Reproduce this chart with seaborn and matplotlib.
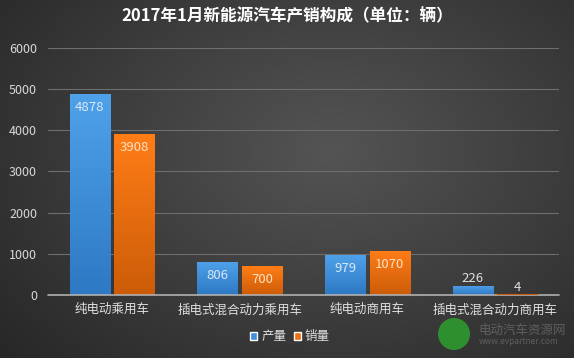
import numpy as np
import pandas as pd
import matplotlib.pyplot as plt
import seaborn as sns
from matplotlib.patches import Patch, Ellipse

categories = ["纯电动乘用车", "插电式混合动力乘用车", "纯电动商用车", "插电式混合动力商用车"]
production = [4878, 806, 979, 226]
sales = [3908, 700, 1070, 4]
series = ["产量", "销量"]
yticks = [0, 1000, 2000, 3000, 4000, 5000, 6000]

df = pd.DataFrame({
    "category": categories * 2,
    "value": production + sales,
    "series": [series[0]] * 4 + [series[1]] * 4,
})

sns.set_theme(style="dark")
plt.rcParams["font.family"] = ["Noto Sans CJK SC", "DejaVu Sans"]

fig = plt.figure(figsize=(5.74, 3.58), dpi=100)

# radial dark background
bg = fig.add_axes([0, 0, 1, 1], zorder=-10)
yy, xx = np.mgrid[0:358, 0:574]
r = np.sqrt(((xx - 330) / 420.0) ** 2 + ((yy - 150) / 300.0) ** 2)
shade = np.clip(0.33 - 0.17 * r, 0.15, 0.33)
bg.imshow(np.dstack([shade] * 3), extent=[0, 1, 0, 1], aspect="auto")
bg.axis("off")

ax = fig.add_axes([0.084, 0.176, 0.89, 0.69])
ax.patch.set_alpha(0)

colors = {"产量": "#3f8fdc", "销量": "#f06d10"}
sns.barplot(data=df, x="category", y="value", hue="series", palette=colors,
            width=0.7, gap=0.1, ax=ax, legend=False, saturation=1)

tops = {"产量": ("#4fa2ea", "#2e78c4"), "销量": ("#ff7d17", "#cc5c08")}
text_col = {"产量": "#dbe9f7", "销量": "#ffe2c6"}
vals = production + sales
for i, bar in enumerate(ax.patches):
    s = series[0] if i < 4 else series[1]
    x0, y0 = bar.get_x(), bar.get_y()
    w, h = bar.get_width(), bar.get_height()
    c1 = np.array(plt.matplotlib.colors.to_rgb(tops[s][0]))
    c2 = np.array(plt.matplotlib.colors.to_rgb(tops[s][1]))
    t = np.linspace(0, 1, 100)[:, None]
    grad = (c1 * (1 - t) + c2 * t)[:, None, :]
    im = ax.imshow(grad, extent=[x0, x0 + w, y0, y0 + h], aspect="auto", zorder=2)
    im.set_clip_path(bar)
    bar.set_facecolor("none")
    if h < 50:
        # tiny bar: draw as a thin line sitting on the axis
        bar.set_edgecolor(tops[s][1])
        bar.set_linewidth(1.5)
        bar.set_zorder(3.5)
    else:
        bar.set_edgecolor("none")
    v = vals[i]
    cx = x0 + w / 2
    if v > 500:
        ax.text(cx, v - 330, str(v), ha="center", va="center", color=text_col[s], fontsize=9.5, zorder=4)
    else:
        ax.text(cx, v + 170, str(v), ha="center", va="center", color="#e0e0e0", fontsize=9.5, zorder=4)

ax.set_xlim(-0.5, 3.5)
ax.set_ylim(0, 6000)
ax.set_yticks(yticks)
ax.set_yticklabels([str(y) for y in yticks])
ax.grid(axis="y", color="#6e6e6e", linewidth=0.8)
ax.set_axisbelow(True)
ax.axhline(0, color="#b0b0b0", linewidth=1.2, zorder=3, clip_on=False)
for sp in ax.spines.values():
    sp.set_visible(False)
ax.tick_params(axis="y", colors="#d8d8d8", labelsize=9, pad=8, length=0)
ax.tick_params(axis="x", colors="#e0e0e0", labelsize=9, pad=6, length=0)
ax.set_xlabel("")
ax.set_ylabel("")

fig.text(0.5, 0.953, "2017年1月新能源汽车产销构成（单位：辆）", ha="center", va="center",
         color="white", fontsize=12, fontweight="bold")

handles = [Patch(facecolor="#3f8fdc"), Patch(facecolor="#f06d10")]
fig.legend(handles, series, loc="center", bbox_to_anchor=(0.505, 0.059), ncol=2, frameon=False,
           fontsize=9, labelcolor="#e0e0e0", handlelength=0.6, handleheight=0.6,
           handletextpad=0.3, columnspacing=0.6)

# watermark
fig.patches.append(Ellipse((454 / 574, 1 - 334 / 358), 32 / 574, 32 / 358, transform=fig.transFigure,
                           facecolor="#2e9a2e", edgecolor="none", alpha=0.9, zorder=5))
fig.text(478 / 574, 1 - 330 / 358, "电动汽车资源网", color="#6a6a6a", fontsize=9, va="center", alpha=0.8)
fig.text(479 / 574, 1 - 341 / 358, "www.evpartner.com", color="#6a6a6a", fontsize=6, va="center", alpha=0.8)

fig.savefig("out.png", dpi=100)
